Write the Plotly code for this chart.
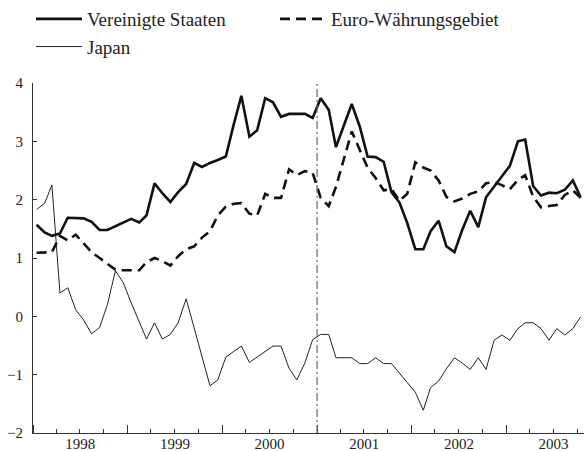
import pandas as pd
import plotly.graph_objects as go

# monthly observations, Jan 1998 - Oct 2003
months = pd.date_range("1998-01-01", "2003-10-01", freq="MS") + pd.Timedelta(days=14)

us = [1.57, 1.44, 1.38, 1.42, 1.69, 1.69, 1.68, 1.62, 1.48, 1.48, 1.54, 1.60,
      1.67, 1.61, 1.73, 2.28, 2.11, 1.96, 2.13, 2.27, 2.63, 2.56, 2.63, 2.68,
      2.74, 3.30, 3.78, 3.08, 3.19, 3.74, 3.67, 3.42, 3.47, 3.47, 3.47, 3.40,
      3.74, 3.54, 2.90, 3.28, 3.64, 3.25, 2.74, 2.73, 2.65, 2.13, 1.95, 1.60,
      1.15, 1.15, 1.46, 1.64, 1.20, 1.10, 1.48, 1.81, 1.53, 2.04, 2.22, 2.40,
      2.58, 3.00, 3.03, 2.23, 2.07, 2.12, 2.11, 2.17, 2.33, 2.04]

euro = [1.09, 1.09, 1.10, 1.38, 1.30, 1.40, 1.25, 1.10, 1.00, 0.90, 0.80, 0.79,
        0.79, 0.79, 0.93, 1.00, 0.95, 0.87, 1.03, 1.15, 1.20, 1.35, 1.46, 1.73,
        1.88, 1.93, 1.94, 1.76, 1.73, 2.10, 2.03, 2.03, 2.52, 2.42, 2.49, 2.46,
        2.03, 1.89, 2.22, 2.72, 3.17, 2.85, 2.55, 2.37, 2.16, 2.18, 1.98, 2.10,
        2.64, 2.55, 2.50, 2.33, 2.05, 1.97, 2.02, 2.10, 2.14, 2.28, 2.30, 2.25,
        2.18, 2.34, 2.42, 2.05, 1.87, 1.89, 1.91, 2.08, 2.16, 2.03]

japan = [1.83, 1.94, 2.25, 0.40, 0.49, 0.11, -0.06, -0.30, -0.19, 0.20, 0.78, 0.58,
         0.23, -0.09, -0.39, -0.11, -0.39, -0.31, -0.11, 0.30, -0.20, -0.70, -1.19, -1.09,
         -0.70, -0.60, -0.51, -0.79, -0.70, -0.60, -0.51, -0.51, -0.89, -1.09, -0.80, -0.40,
         -0.31, -0.31, -0.71, -0.71, -0.71, -0.81, -0.81, -0.71, -0.81, -0.81, -0.98, -1.14,
         -1.30, -1.61, -1.22, -1.11, -0.90, -0.71, -0.80, -0.91, -0.71, -0.91, -0.41, -0.32,
         -0.41, -0.21, -0.11, -0.11, -0.21, -0.41, -0.21, -0.32, -0.21, -0.01]

names = ["Vereinigte Staaten", "Euro-Währungsgebiet", "Japan"]
marker_date = "2001-01-01"

FONT = "Liberation Serif, Times New Roman, Times, serif"

fig = go.Figure()
fig.add_trace(go.Scatter(x=months, y=us, name=names[0], mode="lines",
                         line=dict(color="#111111", width=2.6)))
fig.add_trace(go.Scatter(x=months, y=euro, name=names[1], mode="lines",
                         line=dict(color="#111111", width=2.6, dash="10px,6px")))
fig.add_trace(go.Scatter(x=months, y=japan, name=names[2], mode="lines",
                         line=dict(color="#222222", width=1)))

fig.add_shape(type="line", x0=marker_date, x1=marker_date, y0=-2, y1=4,
              xref="x", yref="y",
              line=dict(color="#666666", width=1.2, dash="8px,3px,2px,3px"))

fig.update_layout(
    width=584, height=451,
    margin=dict(l=33, r=0, t=83, b=18),
    paper_bgcolor="white", plot_bgcolor="white",
    font=dict(family=FONT, size=15, color="#222222"),
    showlegend=True,
    legend=dict(orientation="h", xref="container", yref="container",
                x=31 / 584, y=1.0, xanchor="left", yanchor="top",
                font=dict(family=FONT, size=19, color="#222222"),
                entrywidth=183, entrywidthmode="pixels",
                itemwidth=46, bgcolor="rgba(0,0,0,0)", tracegroupgap=0),
    xaxis=dict(type="date", range=["1998-01-01", "2003-10-28"],
               tick0="1998-01-01", dtick="M12", ticklabelmode="period",
               tickformat="%Y", ticks="inside", ticklen=8, tickwidth=1.2,
               tickcolor="#333333", showline=True, linecolor="#333333",
               linewidth=1.2, showgrid=False, zeroline=False, automargin=False,
               ticklabelstandoff=-3,
               tickfont=dict(family=FONT, size=15, color="#222222"),
               minor=dict(dtick="M3", ticks="inside", ticklen=4,
                          tickcolor="#333333", showgrid=False)),
    yaxis=dict(range=[-2, 4], dtick=1, ticks="inside", ticklen=4,
               tickcolor="#333333", showline=True, linecolor="#333333",
               linewidth=1.2, showgrid=False, zeroline=False, automargin=False,
               ticklabelstandoff=6,
               tickfont=dict(family=FONT, size=15, color="#222222")),
)

fig.write_html("out.html", config={"displayModeBar": False},
               post_script="document.body.style.margin='0';document.body.style.padding='0';")
